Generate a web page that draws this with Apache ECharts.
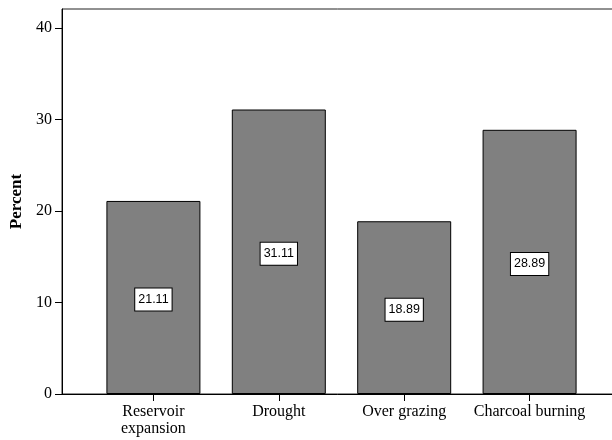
<!DOCTYPE html>
<html>
<head>
<meta charset="utf-8">
<script src="https://cdn.jsdelivr.net/npm/echarts@6/dist/echarts.min.js"></script>
<style>html,body{margin:0;padding:0;background:#fff}#c{width:612px;height:440px}</style>
</head>
<body>
<div id="c"></div>
<script>
const categories = ['Reservoir\nexpansion', 'Drought', 'Over grazing', 'Charcoal burning'];
const percents = [21.11, 31.11, 18.89, 28.89];
const positions = [1, 2, 3, 4];
const yTicks = [0, 10, 20, 30, 40];

const chart = echarts.init(document.getElementById('c'), null, {renderer: 'canvas'});
const serif = 'Liberation Serif, Times New Roman, serif';
chart.setOption({
  animation: false,
  backgroundColor: '#fff',
  grid: {left: 62, right: -9, top: 9, bottom: 46, show: true, borderColor: '#222', borderWidth: 1,
         backgroundColor: 'transparent', containLabel: false, outerBoundsMode: 'none'},
  xAxis: {
    type: 'value', min: 0.271, max: 4.729,
    splitLine: {show: false},
    axisLine: {show: true, lineStyle: {color: '#000', width: 1}},
    axisTick: {show: true, length: 7, inside: false, customValues: positions, lineStyle: {color: '#000'}},
    axisLabel: {
      customValues: positions, margin: 9,
      fontFamily: serif, fontSize: 16, color: '#000', lineHeight: 17,
      formatter: v => categories[Math.round(v) - 1] || ''
    }
  },
  yAxis: {
    type: 'value', min: 0, max: 42.1, interval: 10,
    name: 'Percent', nameLocation: 'middle', nameGap: 37, nameRotate: 90,
    nameTextStyle: {fontFamily: serif, fontSize: 17, fontWeight: 'bold', color: '#000'},
    splitLine: {show: false},
    axisLine: {show: true, lineStyle: {color: '#000', width: 1}},
    axisTick: {show: true, length: 7, customValues: yTicks, lineStyle: {color: '#000'}},
    axisLabel: {customValues: yTicks, margin: 10, fontFamily: serif, fontSize: 16, color: '#000'}
  },
  series: [{
    type: 'bar',
    barWidth: 94,
    data: positions.map((p, i) => [p, percents[i]]),
    itemStyle: {color: '#808080', borderColor: '#000', borderWidth: 1},
    label: {
      show: true, position: 'inside', offset: [0, 2],
      formatter: p => p.value[1].toFixed(2),
      fontFamily: 'Liberation Sans, Arial, sans-serif', fontSize: 12.5, color: '#000',
      backgroundColor: '#fff', borderColor: '#000', borderWidth: 1, padding: [5, 3, 4, 3]
    }
  }]
});
</script>
</body>
</html>
